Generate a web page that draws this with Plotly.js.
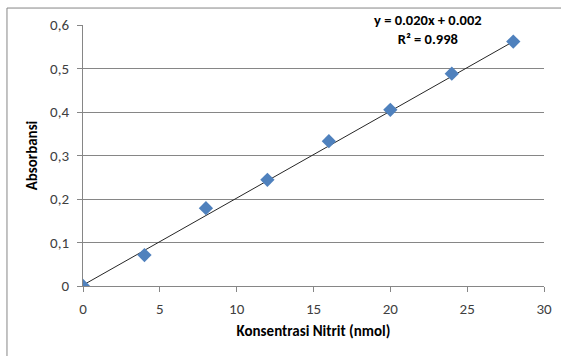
<!DOCTYPE html>
<html>
<head>
<meta charset="utf-8">
<script src="https://cdn.plot.ly/plotly-3.0.1.min.js"></script>
<style>
html,body{margin:0;padding:0;background:#fff;}
#chart{width:561px;height:356px;}
</style>
</head>
<body>
<div id="chart"></div>
<script>
// Data
const konsentrasi = [0, 4, 8, 12, 16, 20, 24, 28];
const absorbansi = [0, 0.071, 0.179, 0.244, 0.333, 0.405, 0.488, 0.562];
// Linear trendline (as displayed on chart)
const slope = 0.020;
const intercept = 0.002;
const trendX = [0, 28];
const trendY = trendX.map(x => slope * x + intercept);
const xTicks = [0, 5, 10, 15, 20, 25, 30];
const yTicks = [0, 0.1, 0.2, 0.3, 0.4, 0.5, 0.6];
const yTickLabels = ['0', '0,1', '0,2', '0,3', '0,4', '0,5', '0,6'];
const eqText = 'y = 0.020x + 0.002<br>R² = 0.998';

const FONT = 'Carlito, Calibri, "Liberation Sans Narrow", "Liberation Sans", sans-serif';

const traces = [
  {
    x: trendX, y: trendY, type: 'scatter', mode: 'lines',
    line: {color: '#262626', width: 1}, hoverinfo: 'skip', showlegend: false
  },
  {
    x: konsentrasi, y: absorbansi, type: 'scatter', mode: 'markers',
    marker: {symbol: 'diamond', size: 11, color: '#4F81BD'}, showlegend: false
  }
];

const layout = {
  width: 561, height: 356,
  margin: {l: 83, r: 17, t: 25, b: 70},
  paper_bgcolor: '#fff', plot_bgcolor: '#fff',
  font: {family: FONT, size: 15, color: '#404040'},
  showlegend: false,
  xaxis: {
    range: [0, 30], tickvals: xTicks, ticktext: xTicks.map(String),
    showgrid: false, zeroline: false,
    showline: true, linecolor: '#868686', linewidth: 1,
    ticks: 'outside', ticklen: 5, tickcolor: '#868686',
    ticklabelstandoff: 4,
    tickfont: {family: FONT, size: 15, color: '#404040'},
    title: {text: '<b>Konsentrasi Nitrit (nmol)</b>', font: {family: FONT, size: 15, color: '#000'}, standoff: 8}
  },
  yaxis: {
    range: [0, 0.6], tickvals: yTicks, ticktext: yTickLabels,
    showgrid: true, gridcolor: '#868686', gridwidth: 1, zeroline: false,
    showline: true, linecolor: '#868686', linewidth: 1,
    ticks: 'outside', ticklen: 5, tickcolor: '#868686',
    ticklabelstandoff: 5,
    tickfont: {family: FONT, size: 15, color: '#404040'},
    title: {text: '<b>Absorbansi</b>', font: {family: FONT, size: 15, color: '#000'}, standoff: 8}
  },
  shapes: [
    {type: 'rect', xref: 'paper', yref: 'paper',
     x0: -0.1649, x1: 1.05, y0: -0.3, y1: 1.065,
     line: {color: '#868686', width: 1}, fillcolor: 'rgba(0,0,0,0)', layer: 'below'}
  ],
  annotations: [
    {x: 22.45, y: 0.59, xref: 'x', yref: 'y', text: '<b>' + eqText + '</b>', showarrow: false,
     font: {family: FONT, size: 14.5, color: '#000'}, align: 'center'}
  ]
};

Plotly.newPlot('chart', traces, layout, {displayModeBar: false, staticPlot: true});
</script>
</body>
</html>
